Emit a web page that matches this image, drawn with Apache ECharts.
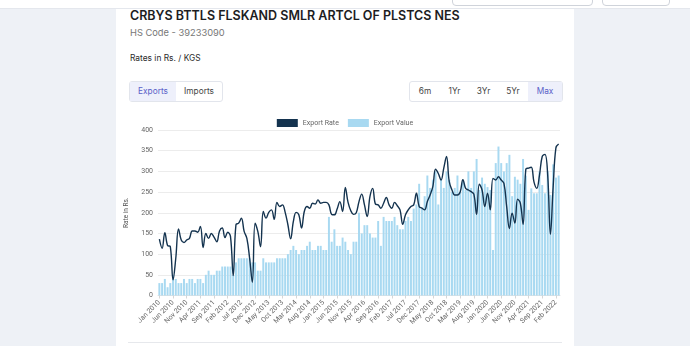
<!DOCTYPE html>
<html><head><meta charset="utf-8">
<script src="https://cdn.jsdelivr.net/npm/echarts@6/dist/echarts.min.js"></script>
<style>
html,body{margin:0;padding:0;width:690px;height:346px;overflow:hidden;background:#eef1f6;font-family:Inter,Roboto,sans-serif;}
.hdr{position:absolute;left:0;top:0;width:690px;height:8px;background:#fff;border-bottom:1px solid #e4e7ed;}
.hbox{position:absolute;top:-20px;height:24px;border:1px solid #cfd3da;border-radius:4px;background:#fff;}
.card{position:absolute;left:116px;top:9px;width:458px;height:345px;background:#fff;}
.t{position:absolute;white-space:nowrap;}
.grp{position:absolute;top:81px;height:19px;border:1px solid #e2e5ec;border-radius:3px;background:#fff;font-size:8.3px;color:#444;}
.grp span{position:absolute;top:0;height:19px;line-height:19px;text-align:center;}
.act{background:#eef0fb;color:#5a5fc8;}
.rule{position:absolute;left:128px;top:342px;width:434px;height:1px;background:#e6e8ec;}
#chart{position:absolute;left:0;top:0;width:690px;height:346px;}
</style></head>
<body>
<div class="hdr"></div>
<div class="hbox" style="left:452px;width:139px;"></div>
<div class="hbox" style="left:602px;width:66px;"></div>
<div class="card"></div>
<div class="t" style="left:130px;top:8px;font-size:12.5px;font-weight:600;color:#1d1d1f;line-height:15px;">CRBYS BTTLS FLSKAND SMLR ARTCL OF PLSTCS NES</div>
<div class="t" style="left:130px;top:26px;font-size:9.3px;color:#777;line-height:14px;">HS Code - 39233090</div>
<div class="t" style="left:130px;top:51px;font-size:8.4px;color:#2a2a2a;line-height:14px;">Rates in Rs. / KGS</div>
<div class="grp" style="left:129px;width:92px;">
  <span class="act" style="left:0;width:46px;">Exports</span>
  <span style="left:46px;width:46px;">Imports</span>
</div>
<div class="grp" style="left:409px;width:152px;">
  <span style="left:0;width:30px;">6m</span>
  <span style="left:30px;width:29px;">1Yr</span>
  <span style="left:59px;width:29px;">3Yr</span>
  <span style="left:88px;width:30px;">5Yr</span>
  <span class="act" style="left:118px;width:34px;">Max</span>
</div>
<div class="rule"></div>
<div id="chart"></div>
<script>
const monthNames = ['Jan','Feb','Mar','Apr','May','Jun','Jul','Aug','Sep','Oct','Nov','Dec'];
const startYear = 2010;
const monthCount = 147; // Jan 2010 .. Mar 2022
const categories = [];
for (let i = 0; i < monthCount; i++) {
  categories.push(monthNames[i % 12] + ' ' + (startYear + Math.floor(i / 12)));
}
const exportRate = [
  136,114,152,121,118,38,90,161,134,128,134,138,
  156,156,153,167,116,150,138,150,141,130,156,163,
  140,153,143,48,171,175,187,155,138,90,32,175,
  155,118,203,187,201,207,184,225,215,219,201,171,
  137,179,201,195,163,203,215,211,223,221,231,223,
  225,225,219,196,195,209,227,203,261,225,205,196,
  200,227,245,219,191,239,259,221,219,211,223,237,
  219,211,225,217,207,172,195,207,215,219,247,215,
  211,207,227,243,263,305,295,279,308,336,275,255,
  243,243,250,280,259,255,251,245,196,269,255,215,
  247,207,283,279,287,279,271,215,162,199,175,233,
  223,172,305,308,310,274,259,291,336,341,291,148,
  263,357,366
];
const exportValue = [
  30,30,40,20,30,50,40,30,30,40,30,40,
  40,30,40,40,30,50,60,50,50,60,60,70,
  70,70,70,50,80,90,90,90,90,90,80,80,
  60,60,90,80,80,80,80,90,90,90,90,100,
  110,120,110,100,110,110,120,130,110,110,120,120,
  110,110,190,130,160,120,120,140,130,110,100,130,
  130,200,150,170,170,150,140,140,180,120,190,180,
  180,180,190,170,160,160,180,190,180,210,220,270,
  210,240,290,260,280,300,220,280,260,300,280,250,
  260,290,250,280,255,300,260,300,330,255,285,270,
  262,255,110,320,360,320,300,320,340,240,287,280,
  270,330,290,207,259,247,247,300,267,247,300,243,
  317,285,290
];
const yTicks = {min: 0, max: 400, interval: 50};

const chart = echarts.init(document.getElementById('chart'), null, {renderer: 'canvas'});
const axisFont = {fontFamily: 'Roboto', fontSize: 7, color: '#666'};
chart.setOption({
  animation: false,
  backgroundColor: 'transparent',
  legend: {
    data: ['Export Rate', 'Export Value'],
    top: 114, left: 'center',
    itemWidth: 21, itemHeight: 8, itemGap: 9,
    icon: 'rect',
    textStyle: {fontFamily: 'Roboto', fontSize: 7, color: '#666'}
  },
  grid: {left: 158, right: 130, top: 130, bottom: 50.5, containLabel: false},
  xAxis: {
    type: 'category',
    data: categories,
    boundaryGap: true,
    axisLine: {show: true, lineStyle: {color: '#e3e3e3'}},
    axisTick: {show: true, interval: 4, alignWithLabel: true, length: 3, lineStyle: {color: '#d6d6d6'}},
    axisLabel: Object.assign({interval: 4, rotate: 45, margin: 6}, axisFont)
  },
  yAxis: {
    type: 'value',
    min: yTicks.min, max: yTicks.max, interval: yTicks.interval,
    name: 'Rate in Rs.',
    nameLocation: 'middle', nameRotate: 90, nameGap: 19,
    nameTextStyle: {fontFamily: 'Roboto', fontSize: 6.5, color: '#555'},
    axisLine: {show: false}, axisTick: {show: false},
    axisLabel: Object.assign({margin: 5}, axisFont),
    splitLine: {lineStyle: {color: '#ececec'}}
  },
  series: [
    {
      name: 'Export Value', type: 'bar', data: exportValue,
      barCategoryGap: '28%',
      itemStyle: {color: '#a8d9f1'}
    },
    {
      name: 'Export Rate', type: 'line', data: exportRate,
      smooth: 0.4, symbol: 'none',
      lineStyle: {color: '#14334f', width: 1.4},
      itemStyle: {color: '#14334f'}
    }
  ]
});
</script>
</body></html>
